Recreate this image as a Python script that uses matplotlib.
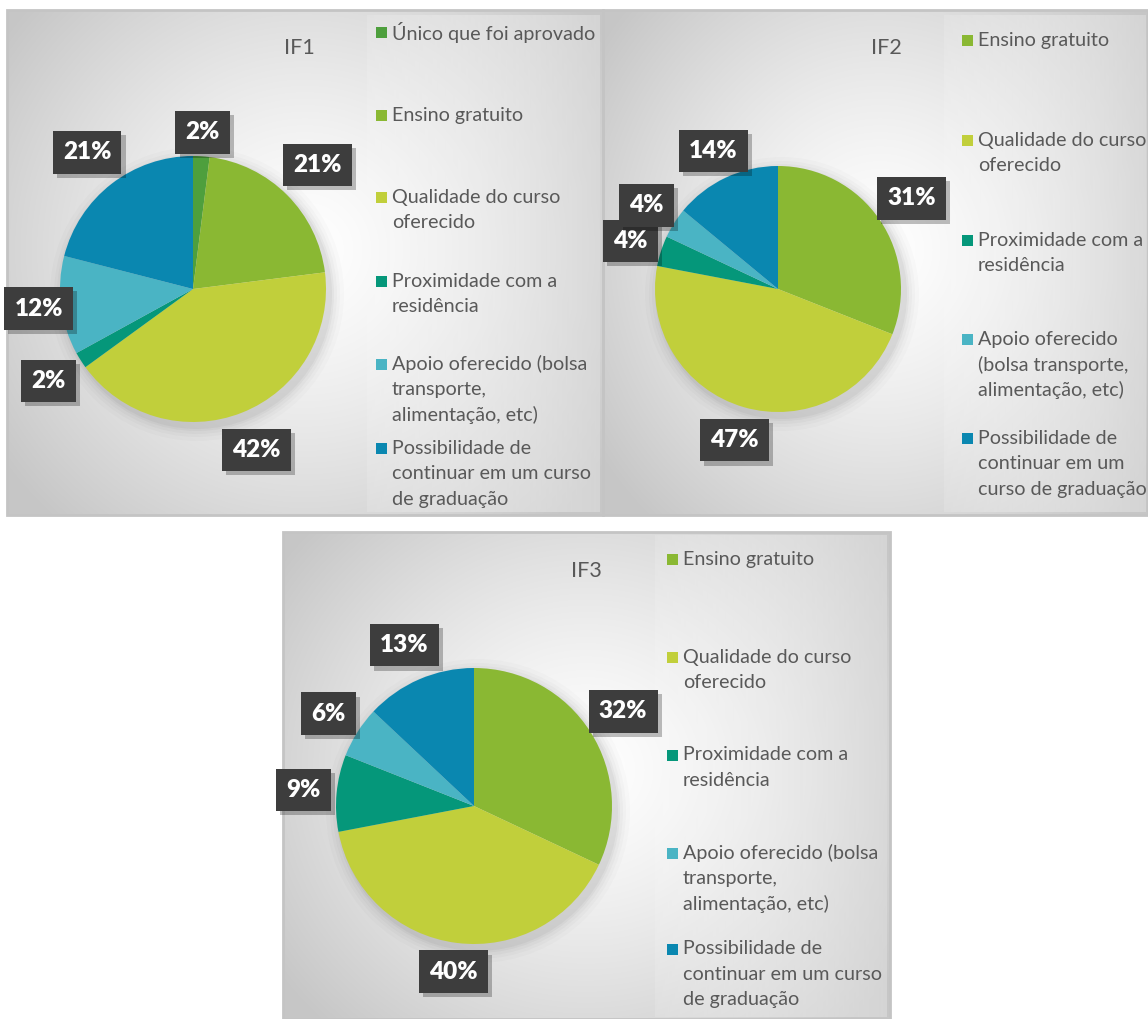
import numpy as np
import matplotlib
matplotlib.use("Agg")
import matplotlib.pyplot as plt
import matplotlib.patheffects as pe
from matplotlib.patches import Rectangle

# ---------------- data ----------------
cat_unico = "Único que foi aprovado"
cat_ensino = "Ensino gratuito"
cat_qualidade = "Qualidade do curso oferecido"
cat_proximidade = "Proximidade com a residência"
cat_apoio = "Apoio oferecido (bolsa transporte, alimentação, etc)"
cat_possib = "Possibilidade de continuar em um curso de graduação"

titles = ["IF1", "IF2", "IF3"]
categories_if1 = [cat_unico, cat_ensino, cat_qualidade, cat_proximidade, cat_apoio, cat_possib]
categories_if2 = [cat_ensino, cat_qualidade, cat_proximidade, cat_apoio, cat_possib]
categories_if3 = [cat_ensino, cat_qualidade, cat_proximidade, cat_apoio, cat_possib]
values_if1 = [2, 21, 42, 2, 12, 21]
values_if2 = [31, 47, 4, 4, 14]
values_if3 = [32, 40, 9, 6, 13]

# legend line wrapping as in the original
wrap_if1 = {
    cat_unico: ["Único que foi aprovado"],
    cat_ensino: ["Ensino gratuito"],
    cat_qualidade: ["Qualidade do curso", "oferecido"],
    cat_proximidade: ["Proximidade com a", "residência"],
    cat_apoio: ["Apoio oferecido (bolsa", "transporte,", "alimentação, etc)"],
    cat_possib: ["Possibilidade de", "continuar em um curso", "de graduação"],
}
wrap_if2 = {
    cat_ensino: ["Ensino gratuito"],
    cat_qualidade: ["Qualidade do curso", "oferecido"],
    cat_proximidade: ["Proximidade com a", "residência"],
    cat_apoio: ["Apoio oferecido", "(bolsa transporte,", "alimentação, etc)"],
    cat_possib: ["Possibilidade de", "continuar em um", "curso de graduação"],
}
wrap_if3 = wrap_if1

# ---------------- style ----------------
color_map = {
    cat_unico: "#4e9f3d",
    cat_ensino: "#8ab833",
    cat_qualidade: "#c1cf3b",
    cat_proximidade: "#05977a",
    cat_apoio: "#4ab4c4",
    cat_possib: "#0a87b0",
}
TXT = "#595959"
W, H = 1148, 1019

plt.rcParams["font.family"] = ["Lato", "DejaVu Sans"]
fig = plt.figure(figsize=(W / 100, H / 100), dpi=100)
fig.patch.set_facecolor("white")
ax = fig.add_axes([0, 0, 1, 1])


def Y(y):
    return H - y


def panel_bg(x0, y0, x1, y1, gcx, gcy):
    w, h = int(x1 - x0), int(y1 - y0)
    xs = np.linspace(x0, x1, w)
    ys = np.linspace(y0, y1, h)
    X, Yg = np.meshgrid(xs, ys)
    rx, ry = (x1 - x0) * 0.62, (y1 - y0) * 0.72
    t = np.clip(np.sqrt(((X - gcx) / rx) ** 2 + ((Yg - gcy) / ry) ** 2), 0, 1)
    t = t ** 1.3
    lo, hi = 1.0, 0.78
    v = lo + (hi - lo) * t
    img = np.dstack([v, v, v])
    ax.imshow(img, extent=(x0, x1, Y(y1), Y(y0)), origin="upper", zorder=0,
              interpolation="bilinear")
    ax.add_patch(Rectangle((x0, Y(y1)), x1 - x0, y1 - y0, fill=False,
                           edgecolor="#c4c4c4", linewidth=2, zorder=1))


def legend_bg(x0, y0, x1, y1):
    w, h = int(x1 - x0), int(y1 - y0)
    xs = np.linspace(0, 1, w)
    v = 0.99 - 0.13 * xs ** 1.5
    a = 0.15 + 0.55 * xs
    img = np.zeros((h, w, 4))
    img[..., 0] = v
    img[..., 1] = v
    img[..., 2] = v
    img[..., 3] = a
    ax.imshow(img, extent=(x0, x1, Y(y1), Y(y0)), origin="upper", zorder=0.5,
              interpolation="bilinear")


def draw_chart(title, cats, vals, wrap, cx, cy, r, title_xy, leg_x, leg_ys,
               lab_f, panel_box, grad_c, leg_box):
    panel_bg(*panel_box, *grad_c)
    legend_bg(*leg_box)
    # soft shadow behind the pie (offset to lower right)
    for k, a in zip([14, 10, 7, 4, 2], [0.015, 0.02, 0.025, 0.03, 0.035]):
        ax.add_patch(plt.Circle((cx + 4, Y(cy) - 5), r + k, color="black",
                                alpha=a, lw=0, zorder=1.5))
    wedges, _ = ax.pie(vals, colors=[color_map[c] for c in cats], startangle=90,
                       counterclock=False, center=(cx, Y(cy)), radius=r,
                       wedgeprops=dict(linewidth=0, antialiased=True),
                       frame=True)
    for wdg in wedges:
        wdg.set_zorder(2)
    for wdg, v, f in zip(wedges, vals, lab_f):
        mid = np.deg2rad((wdg.theta1 + wdg.theta2) / 2)
        tx = cx + f * r * np.cos(mid)
        ty = Y(cy) + f * r * np.sin(mid)
        t = ax.text(tx, ty, f"{v}%", ha="center", va="center", color="white",
                    fontsize=17.5, fontweight="heavy", zorder=6,
                    bbox=dict(boxstyle="square,pad=0.42", facecolor="#3d3d3d",
                              edgecolor="none", linewidth=0))
        t.get_bbox_patch().set_path_effects(
            [pe.SimplePatchShadow(offset=(3, -3), shadow_rgbFace="black",
                                  alpha=0.25), pe.Normal()])
    ax.text(title_xy[0], Y(title_xy[1]), title, ha="center", va="center",
            fontsize=15.5, color=TXT, zorder=6)
    for c, ly in zip(cats, leg_ys):
        ax.add_patch(Rectangle((leg_x - 16, Y(ly) - 5.5), 11, 11,
                               facecolor=color_map[c], edgecolor="none", zorder=6))
        for i, line in enumerate(wrap[c]):
            ax.text(leg_x, Y(ly + i * 25.5), line, ha="left", va="center",
                    fontsize=14.2, color=TXT, zorder=6)


draw_chart(titles[0], categories_if1, values_if1, wrap_if1,
           cx=193, cy=289, r=133, title_xy=(299, 48), leg_x=392,
           leg_ys=[32, 115, 197, 281, 364, 448],
           lab_f=[1.18, 1.32, 1.30, 1.29, 1.17, 1.30],
           panel_box=(7, 10, 603, 515), grad_c=(305, 250),
           leg_box=(367, 15, 600, 512))
draw_chart(titles[1], categories_if2, values_if2, wrap_if2,
           cx=778, cy=289, r=123, title_xy=(886, 48), leg_x=978,
           leg_ys=[40, 140, 240, 339, 438],
           lab_f=[1.31, 1.28, 1.26, 1.27, 1.24],
           panel_box=(603, 10, 1148, 515), grad_c=(880, 250),
           leg_box=(944, 15, 1146, 512))
draw_chart(titles[2], categories_if3, values_if3, wrap_if3,
           cx=474, cy=806, r=138, title_xy=(586, 571), leg_x=683,
           leg_ys=[559, 657, 755, 853, 949],
           lab_f=[1.28, 1.21, 1.24, 1.25, 1.27],
           panel_box=(283, 532, 890, 1019), grad_c=(586, 770),
           leg_box=(655, 535, 887, 1017))

ax.set_xlim(0, W)
ax.set_ylim(0, H)
ax.set_aspect("auto")
ax.axis("off")
fig.savefig("out.png", dpi=100, facecolor="white")
